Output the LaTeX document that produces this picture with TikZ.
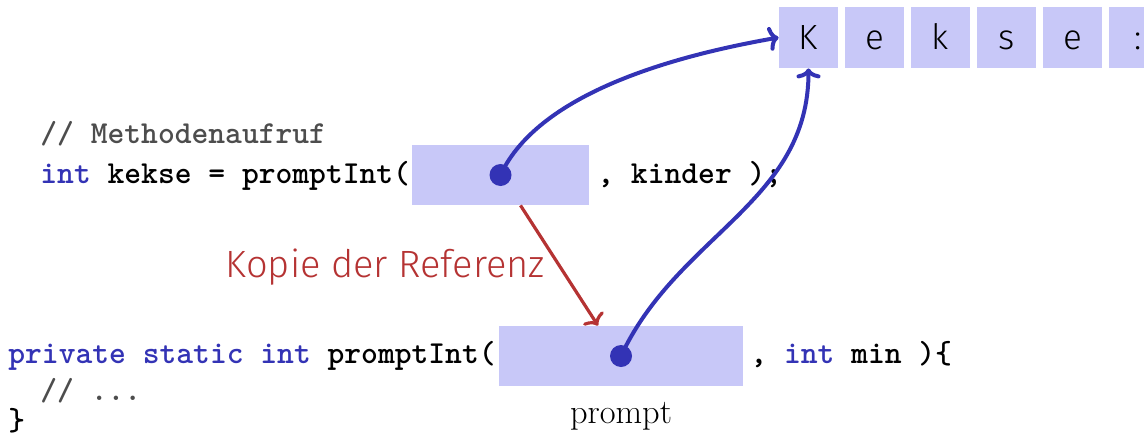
\documentclass[tikz,border=0pt]{standalone}
\usepackage{fontspec}
\newfontfamily\firalight{Fira Sans Light}
\usetikzlibrary{positioning, arrows.meta}
\definecolor{refblue}{RGB}{51,51,181}
\definecolor{cellfill}{RGB}{200,200,248}
\definecolor{copyred}{RGB}{181,51,51}
\definecolor{commentgray}{RGB}{77,77,77}

\begin{document}
\begin{tikzpicture}[x=0.5pt, y=-0.5pt]
\tikzstyle{code}=[anchor=base west, inner sep=0pt, font=\fontsize{16}{19}\selectfont\ttfamily\bfseries]
\tikzstyle{slot}=[rectangle, fill=cellfill, inner sep=0pt, minimum height=30pt]
\tikzstyle{cell}=[rectangle, fill=cellfill, inner sep=0pt, minimum width=29.5pt, minimum height=30.5pt, text height=12pt, text depth=0pt, font=\fontsize{17.5}{20}\selectfont\firalight, node distance=3.1pt]
\tikzstyle{dot}=[circle, fill=refblue, inner sep=0pt, minimum size=11pt]
\tikzstyle{ref}=[-{Computer Modern Rightarrow[length=5pt, width=12pt]}, line width=2pt, refblue]
\tikzstyle{copy}=[-{Computer Modern Rightarrow[length=5pt, width=12pt]}, line width=1.6pt, copyred]
\useasboundingbox (0,0) rectangle (1144,439);
    \node[cell] (c1) at (808.5,37.5) {K};
    \foreach \l/\i/\j in {e/2/1, k/3/2, s/4/3, e/5/4, :/6/5}
        \node[cell, right=of c\j] (c\i) {\l};
    \node[code, commentgray] (comment) at (40,143) {// Methodenaufruf};
    \node[code] (call) at (40,183) {\textcolor{refblue}{int} kekse = promptInt(};
    \node[slot, minimum width=88.5pt] (arg) at (500.5,175) {};
    \node[dot] (argdot) at (arg.center) {};
    \node[code] (callrest) at (597,183) {, kinder );};
    \node[code] (decl) at (8,363) {\textcolor{refblue}{private static int} promptInt(};
    \node[slot, minimum width=122pt] (param) at (621,356) {};
    \node[dot] (paramdot) at (param.center) {};
    \node[code] (declrest) at (750,363) {, \textcolor{refblue}{int} min )\{};
    \node[code, commentgray] (body) at (40,400) {// ...};
    \node[code] (close) at (8,430) {\}};
    \node[anchor=base, inner sep=0pt, font=\fontsize{17.2}{20}\selectfont] (pname) at (621,423) {prompt};
    \node[anchor=base east, inner sep=0pt, copyred, font=\fontsize{19}{23}\selectfont\firalight] (copylabel) at (545,277) {Kopie der Referenz};
    \draw[copy] ([xshift=10pt]arg.south) -- ([xshift=-11.5pt]param.north);
    \draw[ref] (argdot.center) to[out=65, in=190, looseness=0.78] (c1.west);
    \draw[ref] (paramdot.center) to[out=65, in=-90] (c1.south);
\end{tikzpicture}
\end{document}
